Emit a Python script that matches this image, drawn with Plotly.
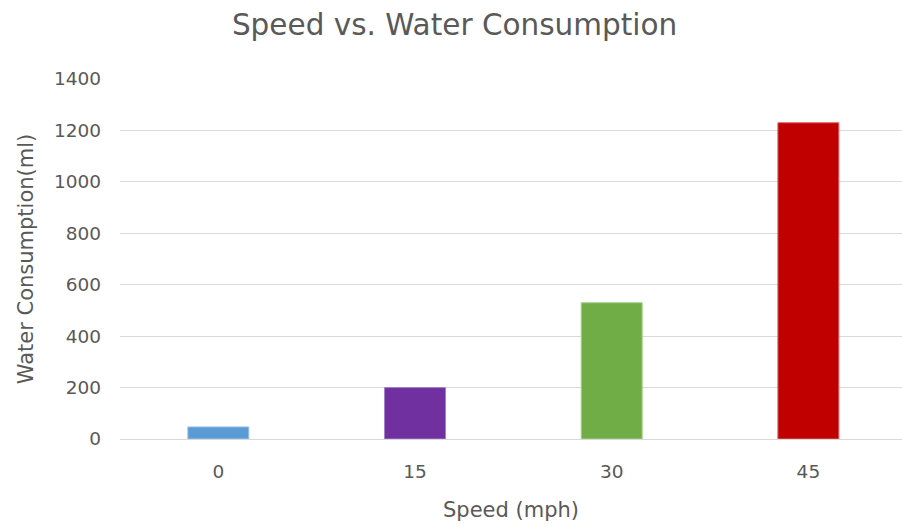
import plotly.graph_objects as go

# Water used at each riding speed
speeds = ["0", "15", "30", "45"]
water_ml = [47, 200, 530, 1230]
bar_colors = ["#5B9BD5", "#7030A0", "#70AD47", "#C00000"]
edge_colors = ["#9DC3E6", "#A581C9", "#A9D18E", "#E06666"]
y_ticks = [0, 200, 400, 600, 800, 1000, 1200, 1400]

positions = list(range(len(speeds)))

fig = go.Figure(
    go.Bar(
        x=positions,
        y=water_ml,
        width=0.31,
        marker=dict(color=bar_colors, line=dict(color=edge_colors, width=1)),
        hoverinfo="x+y",
    )
)

font_family = "'DejaVu Sans', 'Open Sans', sans-serif"
grey = "#595959"

fig.update_layout(
    width=902,
    height=524,
    margin=dict(l=120, r=0, t=79, b=85),
    paper_bgcolor="white",
    plot_bgcolor="white",
    showlegend=False,
    title=dict(
        text="Speed vs. Water Consumption",
        x=0.504,
        xref="container",
        xanchor="center",
        y=0.952,
        yref="container",
        yanchor="middle",
        font=dict(family=font_family, size=29.5, color=grey),
    ),
    xaxis=dict(
        tickmode="array",
        tickvals=positions,
        ticktext=speeds,
        range=[-0.5, 3.476],
        showgrid=False,
        zeroline=False,
        showline=False,
        ticks="",
        ticklabelstandoff=19,
        tickfont=dict(family=font_family, size=18.5, color=grey),
        title=dict(
            text="Speed (mph)",
            standoff=21,
            font=dict(family=font_family, size=21, color=grey),
        ),
    ),
    yaxis=dict(
        range=[0, 1400],
        tickmode="array",
        tickvals=y_ticks,
        showgrid=True,
        gridcolor="#D9D9D9",
        gridwidth=1,
        zeroline=True,
        zerolinecolor="#D9D9D9",
        zerolinewidth=1,
        showline=False,
        ticks="",
        ticklabelstandoff=18,
        tickfont=dict(family=font_family, size=18.5, color=grey),
        title=dict(
            text="Water Consumption(ml)",
            standoff=14,
            font=dict(family=font_family, size=21, color=grey),
        ),
    ),
)

fig.write_html("out.html")
